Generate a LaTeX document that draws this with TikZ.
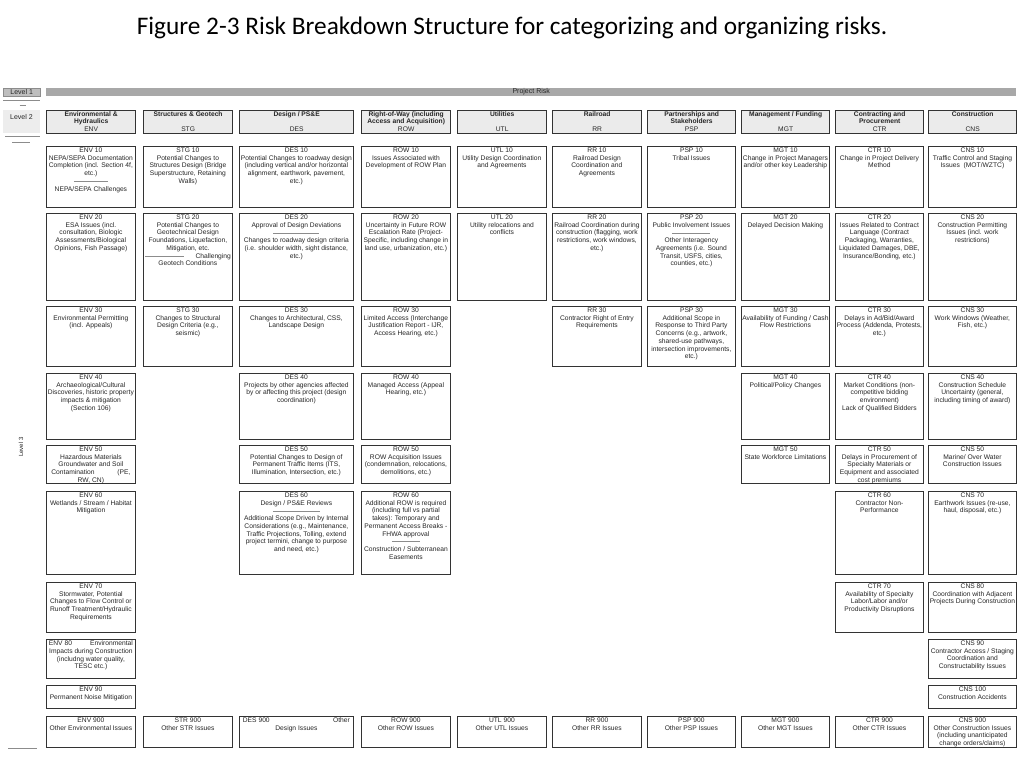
\documentclass[tikz,border=0pt]{standalone}
\usepackage{fontspec}
\setmainfont{Liberation Sans}
\newfontfamily\titlefont{Carlito}
\definecolor{barcol}{HTML}{A8A8A8}
\definecolor{lvlonecol}{HTML}{BEBEBE}
\definecolor{lvltwocol}{HTML}{EDEDED}
\definecolor{headcol}{HTML}{EBEBEB}
\definecolor{edgecol}{HTML}{333333}
\definecolor{inkcol}{HTML}{262626}
\definecolor{thincol}{HTML}{8C8C8C}
% column edges
\def\ENVl{46}\def\ENVr{135}
\def\STGl{143}\def\STGr{232}
\def\DESl{239}\def\DESr{353}
\def\ROWl{361}\def\ROWr{450}
\def\UTLl{457}\def\UTLr{546}
\def\RRl{552}\def\RRr{641}
\def\PSPl{647}\def\PSPr{735}
\def\MGTl{741}\def\MGTr{829}
\def\CTRl{835}\def\CTRr{923}
\def\CNSl{928}\def\CNSr{1016}
\newcommand\srule[1]{\textcolor{thincol}{\rule[2pt]{#1pt}{0.45pt}}}
\newcommand\rbcell[6]{%
  \node[cellbox, anchor=north west, minimum width={#3-#2}, minimum height={#5-#4}] (#1) at (#2,#4) {};
  \node[celltext, anchor=north, yshift=-1.7pt] (#1t) at (#1.north) {#6};}
\newcommand\rbhead[6]{%
  \node[headbox, anchor=north west, minimum width={#3-#2}, minimum height={133-110}] (#1) at (#2,110) {};
  \node[celltext, anchor=north, yshift=-1.2pt] (#1t) at (#1.north) {\textbf{#4}\\\textbf{#5}\\#6};}
\begin{document}
\begin{tikzpicture}[x=1pt,y=-1pt,
  cellbox/.style={draw=edgecol, line width=0.8pt, fill=white, inner sep=0pt},
  headbox/.style={draw=edgecol, line width=1.3pt, fill=headcol, inner sep=0pt},
  celltext/.style={font=\fontsize{6.7}{7.7}\selectfont, align=center, inner sep=0pt, text=inkcol},
  lvltext/.style={font=\fontsize{7}{8}\selectfont, inner sep=0pt, text=inkcol},
  thinline/.style={draw=thincol, line width=0.6pt}]
\useasboundingbox (0,0) rectangle (1024,768);
\fill[white] (0,0) rectangle (1024,768);
% title
\node[font=\titlefont\fontsize{25.3}{30}\selectfont, anchor=base, inner sep=0pt] (title) at (512,34.5)
  {Figure 2-3 Risk Breakdown Structure for categorizing and organizing risks.};
% level labels
\node[draw=thincol, line width=0.4pt, fill=lvlonecol, anchor=north west, minimum width=37, minimum height=8.5, inner sep=0pt] (lvl1) at (3,87.7) {};
\node[lvltext] (lvl1t) at (lvl1.center) {Level 1};
\node[fill=barcol, anchor=north west, minimum width={1016-46}, minimum height=8.7, inner sep=0pt] (bar) at (46,87.3) {};
\node[lvltext] (bart) at (bar.center) {Project Risk};
\coordinate (la) at (3,100.7); \coordinate (lb) at (40,100.7);
\draw[thinline] (la) -- (lb);
\coordinate (lc) at (19.5,105.7); \coordinate (ld) at (25.5,105.7);
\draw[thinline] (lc) -- (ld);
\node[fill=lvltwocol, anchor=north west, minimum width=37, minimum height=23.4, inner sep=0pt] (lvl2) at (3,109.3) {};
\node[lvltext, anchor=north] (lvl2t) at (21.5,114) {Level 2};
\coordinate (le) at (5,136.7); \coordinate (lf) at (40,136.7);
\draw[thinline, line width=0.9pt] (le) -- (lf);
\coordinate (lg) at (12,142.7); \coordinate (lh) at (30,142.7);
\draw[thinline] (lg) -- (lh);
\node[lvltext, font=\fontsize{6}{7}\selectfont, rotate=90] (lvl3) at (21,447) {Level 3};
\coordinate (li) at (8,748.3); \coordinate (lj) at (37,748.3);
\draw[thinline] (li) -- (lj);
% headers
\rbhead{henv}{\ENVl}{\ENVr}{Environmental \&}{Hydraulics}{ENV}
\rbhead{hstg}{\STGl}{\STGr}{Structures \& Geotech}{}{STG}
\rbhead{hdes}{\DESl}{\DESr}{Design / PS\&E}{}{DES}
\rbhead{hrow}{\ROWl}{\ROWr}{Right-of-Way (including}{Access and Acquisition)}{ROW}
\rbhead{hutl}{\UTLl}{\UTLr}{Utilities}{}{UTL}
\rbhead{hrr}{\RRl}{\RRr}{Railroad}{}{RR}
\rbhead{hpsp}{\PSPl}{\PSPr}{Partnerships and}{Stakeholders}{PSP}
\rbhead{hmgt}{\MGTl}{\MGTr}{Management / Funding}{}{MGT}
\rbhead{hctr}{\CTRl}{\CTRr}{Contracting and}{Procurement}{CTR}
\rbhead{hcns}{\CNSl}{\CNSr}{Construction}{}{CNS}
% row 10
\rbcell{env10}{\ENVl}{\ENVr}{146}{207}{ENV 10\\NEPA/SEPA Documentation\\Completion (incl. Section 4f,\\etc.)\\\srule{34}\\NEPA/SEPA Challenges}
\rbcell{stg10}{\STGl}{\STGr}{146}{207}{STG 10\\Potential Changes to\\Structures Design (Bridge\\Superstructure, Retaining\\Walls)}
\rbcell{des10}{\DESl}{\DESr}{146}{207}{DES 10\\Potential Changes to roadway design\\(including vertical and/or horizontal\\alignment, earthwork, pavement,\\etc.)}
\rbcell{row10}{\ROWl}{\ROWr}{146}{207}{ROW 10\\Issues Associated with\\Development of ROW Plan}
\rbcell{utl10}{\UTLl}{\UTLr}{146}{207}{UTL 10\\Utility Design Coordination\\and Agreements}
\rbcell{rr10}{\RRl}{\RRr}{146}{207}{RR 10\\Railroad Design\\Coordination and\\Agreements}
\rbcell{psp10}{\PSPl}{\PSPr}{146}{207}{PSP 10\\Tribal Issues}
\rbcell{mgt10}{\MGTl}{\MGTr}{146}{207}{MGT 10\\Change in Project Managers\\and/or other key Leadership}
\rbcell{ctr10}{\CTRl}{\CTRr}{146}{207}{CTR 10\\Change in Project Delivery\\Method}
\rbcell{cns10}{\CNSl}{\CNSr}{146}{207}{CNS 10\\Traffic Control and Staging\\Issues~~(MOT/WZTC)}
% row 20
\rbcell{env20}{\ENVl}{\ENVr}{213}{300}{ENV 20\\ESA Issues (incl.\\consultation, Biologic\\Assessments/Biological\\Opinions, Fish Passage)}
\rbcell{stg20}{\STGl}{\STGr}{213}{300}{STG 20\\Potential Changes to\\Geotechnical Design\\Foundations, Liquefaction,\\Mitigation, etc.\\\makebox[86pt]{\srule{39}\hfill Challenging}\\Geotech Conditions}
\rbcell{des20}{\DESl}{\DESr}{213}{300}{DES 20\\Approval of Design Deviations\\\srule{46}\\Changes to roadway design criteria\\(i.e. shoulder width, sight distance,\\etc.)}
\rbcell{row20}{\ROWl}{\ROWr}{213}{300}{ROW 20\\Uncertainty in Future ROW\\Escalation Rate (Project-\\Specific, including change in\\land use, urbanization, etc.)}
\rbcell{utl20}{\UTLl}{\UTLr}{213}{300}{UTL 20\\Utility relocations and\\conflicts}
\rbcell{rr20}{\RRl}{\RRr}{213}{300}{RR 20\\Railroad Coordination during\\construction (flagging, work\\restrictions, work windows,\\etc.)}
\rbcell{psp20}{\PSPl}{\PSPr}{213}{300}{PSP 20\\Public Involvement Issues\\\srule{38}\\Other Interagency\\Agreements (i.e. Sound\\Transit, USFS, cities,\\counties, etc.)}
\rbcell{mgt20}{\MGTl}{\MGTr}{213}{300}{MGT 20\\Delayed Decision Making}
\rbcell{ctr20}{\CTRl}{\CTRr}{213}{300}{CTR 20\\Issues Related to Contract\\Language (Contract\\Packaging, Warranties,\\Liquidated Damages, DBE,\\Insurance/Bonding, etc.)}
\rbcell{cns20}{\CNSl}{\CNSr}{213}{300}{CNS 20\\Construction Permitting\\Issues (incl. work\\restrictions)}
% row 30
\rbcell{env30}{\ENVl}{\ENVr}{306}{366}{ENV 30\\Environmental Permitting\\(incl. Appeals)}
\rbcell{stg30}{\STGl}{\STGr}{306}{366}{STG 30\\Changes to Structural\\Design Criteria (e.g.,\\seismic)}
\rbcell{des30}{\DESl}{\DESr}{306}{366}{DES 30\\Changes to Architectural, CSS,\\Landscape Design}
\rbcell{row30}{\ROWl}{\ROWr}{306}{366}{ROW 30\\Limited Access (Interchange\\Justification Report - IJR,\\Access Hearing, etc.)}
\rbcell{rr30}{\RRl}{\RRr}{306}{366}{RR 30\\Contractor Right of Entry\\Requirements}
\rbcell{psp30}{\PSPl}{\PSPr}{306}{366}{PSP 30\\Additional Scope in\\Response to Third Party\\Concerns (e.g., artwork,\\shared-use pathways,\\intersection improvements,\\etc.)}
\rbcell{mgt30}{\MGTl}{\MGTr}{306}{366}{MGT 30\\Availability of Funding / Cash\\Flow Restrictions}
\rbcell{ctr30}{\CTRl}{\CTRr}{306}{366}{CTR 30\\Delays in Ad/Bid/Award\\Process (Addenda, Protests,\\etc.)}
\rbcell{cns30}{\CNSl}{\CNSr}{306}{366}{CNS 30\\Work Windows (Weather,\\Fish, etc.)}
% row 40
\rbcell{env40}{\ENVl}{\ENVr}{373}{439}{ENV 40\\Archaeological/Cultural\\Discoveries, historic property\\impacts \& mitigation\\(Section 106)}
\rbcell{des40}{\DESl}{\DESr}{373}{439}{DES 40\\Projects by other agencies affected\\by or affecting this project (design\\coordination)}
\rbcell{row40}{\ROWl}{\ROWr}{373}{439}{ROW 40\\Managed Access (Appeal\\Hearing, etc.)}
\rbcell{mgt40}{\MGTl}{\MGTr}{373}{439}{MGT 40\\Political/Policy Changes}
\rbcell{ctr40}{\CTRl}{\CTRr}{373}{439}{CTR 40\\Market Conditions (non-\\competitive bidding\\environment)\\Lack of Qualified Bidders}
\rbcell{cns40}{\CNSl}{\CNSr}{373}{439}{CNS 40\\Construction Schedule\\Uncertainty (general,\\including timing of award)}
% row 50
\rbcell{env50}{\ENVl}{\ENVr}{445}{483}{ENV 50\\Hazardous Materials\\Groundwater and Soil\\\makebox[79pt]{Contamination\hfill(PE,}\\RW, CN)}
\rbcell{des50}{\DESl}{\DESr}{445}{483}{DES 50\\Potential Changes to Design of\\Permanent Traffic Items (ITS,\\Illumination, Intersection, etc.)}
\rbcell{row50}{\ROWl}{\ROWr}{445}{483}{ROW 50\\ROW Acquisition Issues\\(condemnation, relocations,\\demolitions, etc.)}
\rbcell{mgt50}{\MGTl}{\MGTr}{445}{483}{MGT 50\\State Workforce Limitations}
\rbcell{ctr50}{\CTRl}{\CTRr}{445}{483}{CTR 50\\Delays in Procurement of\\Specialty Materials or\\Equipment and associated\\cost premiums}
\rbcell{cns50}{\CNSl}{\CNSr}{445}{483}{CNS 50\\Marine/ Over Water\\Construction Issues}
% row 60
\rbcell{env60}{\ENVl}{\ENVr}{491}{574}{ENV 60\\Wetlands / Stream / Habitat\\Mitigation}
\rbcell{des60}{\DESl}{\DESr}{491}{574}{DES 60\\Design / PS\&E Reviews\\\srule{47}\\Additional Scope Driven by Internal\\Considerations (e.g., Maintenance,\\Traffic Projections, Tolling, extend\\project termini, change to purpose\\and need, etc.)}
\rbcell{row60}{\ROWl}{\ROWr}{491}{574}{ROW 60\\Additional ROW is required\\(including full vs partial\\takes): Temporary and\\Permanent Access Breaks -\\FHWA approval\\\srule{28}\\Construction / Subterranean\\Easements}
\rbcell{ctr60}{\CTRl}{\CTRr}{491}{574}{CTR 60\\Contractor Non-\\Performance}
\rbcell{cns70}{\CNSl}{\CNSr}{491}{574}{CNS 70\\Earthwork Issues (re-use,\\haul, disposal, etc.)}
% row 70
\rbcell{env70}{\ENVl}{\ENVr}{582}{632}{ENV 70\\Stormwater, Potential\\Changes to Flow Control or\\Runoff Treatment/Hydraulic\\Requirements}
\rbcell{ctr70}{\CTRl}{\CTRr}{582}{632}{CTR 70\\Availability of Specialty\\Labor/Labor and/or\\Productivity Disruptions}
\rbcell{cns80}{\CNSl}{\CNSr}{582}{632}{CNS 80\\Coordination with Adjacent\\Projects During Construction}
% row 80
\rbcell{env80}{\ENVl}{\ENVr}{639}{678}{\makebox[84pt]{ENV 80\hfill Environmental}\\Impacts during Construction\\(includng water quality,\\TESC etc.)}
\rbcell{cns90}{\CNSl}{\CNSr}{639}{678}{CNS 90\\Contractor Access / Staging\\Coordination and\\Constructability Issues}
% row 90
\rbcell{env90}{\ENVl}{\ENVr}{685}{708}{ENV 90\\Permanent Noise Mitigation}
\rbcell{cns100}{\CNSl}{\CNSr}{685}{708}{CNS 100\\Construction Accidents}
% row 900
\rbcell{env900}{\ENVl}{\ENVr}{716}{747}{ENV 900\\Other Environmental Issues}
\rbcell{str900}{\STGl}{\STGr}{716}{747}{STR 900\\Other STR Issues}
\rbcell{des900}{\DESl}{\DESr}{716}{747}{\makebox[107pt]{DES 900\hfill Other}\\Design Issues}
\rbcell{row900}{\ROWl}{\ROWr}{716}{747}{ROW 900\\Other ROW Issues}
\rbcell{utl900}{\UTLl}{\UTLr}{716}{747}{UTL 900\\Other UTL Issues}
\rbcell{rr900}{\RRl}{\RRr}{716}{747}{RR 900\\Other RR Issues}
\rbcell{psp900}{\PSPl}{\PSPr}{716}{747}{PSP 900\\Other PSP Issues}
\rbcell{mgt900}{\MGTl}{\MGTr}{716}{747}{MGT 900\\Other MGT Issues}
\rbcell{ctr900}{\CTRl}{\CTRr}{716}{747}{CTR 900\\Other CTR Issues}
\rbcell{cns900}{\CNSl}{\CNSr}{716}{747}{CNS 900\\Other Construction Issues\\(including unanticipated\\change orders/claims)}
\end{tikzpicture}
\end{document}
